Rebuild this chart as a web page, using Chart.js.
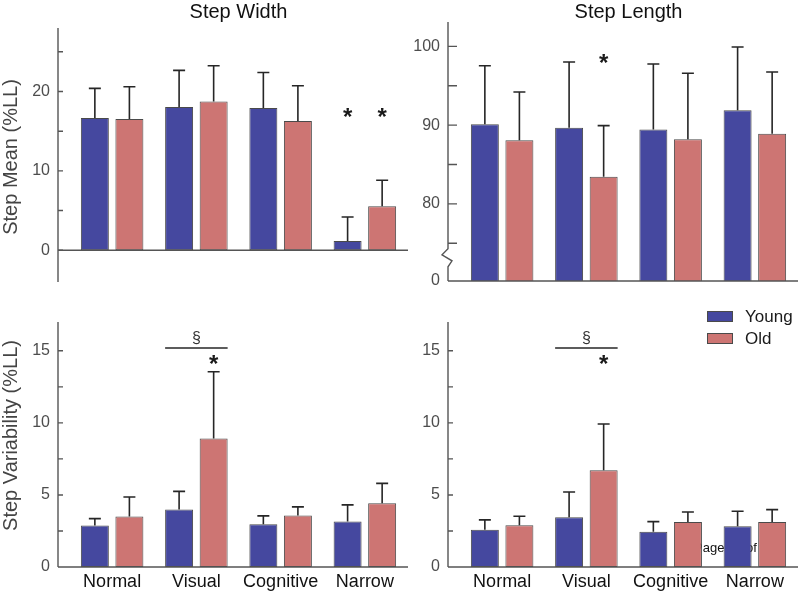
<!DOCTYPE html>
<html>
<head>
<meta charset="utf-8">
<script src="https://cdn.jsdelivr.net/npm/chart.js@4.4.0/dist/chart.umd.min.js"></script>
<style>
html,body{margin:0;padding:0;background:#fff;}
#wrap{position:relative;width:800px;height:592px;overflow:hidden;background:#fff;}
.cell{position:absolute;}
</style>
</head>
<body>
<div id="wrap">
  <div class="cell" style="left:0;top:0;width:410px;height:296px"><canvas id="c1"></canvas></div>
  <div class="cell" style="left:410px;top:0;width:390px;height:296px"><canvas id="c2"></canvas></div>
  <div class="cell" style="left:0;top:296px;width:410px;height:296px"><canvas id="c3"></canvas></div>
  <div class="cell" style="left:410px;top:296px;width:390px;height:296px"><canvas id="c4"></canvas></div>
</div>
<script>
// ---------- data ----------
const categories = ['Normal', 'Visual', 'Cognitive', 'Narrow'];
const seriesNames = ['Young', 'Old'];

// Step Width - mean (%LL)
const widthMeanYoung = [16.67, 18.06, 17.93, 1.18];
const widthMeanOld   = [16.54, 18.73, 16.29, 5.53];
const widthMeanSdYoung = [3.73, 4.60, 4.47, 3.00];
const widthMeanSdOld   = [4.06, 4.52, 4.43, 3.29];

// Step Length - mean (%LL)
const lengthMeanYoung = [90.11, 89.68, 89.43, 91.89];
const lengthMeanOld   = [88.08, 83.43, 88.21, 88.92];
const lengthMeanSdYoung = [7.44, 8.34, 8.34, 8.03];
const lengthMeanSdOld   = [6.13, 6.51, 8.38, 7.83];

// Step Width - variability (%LL)
const widthVarYoung = [2.88, 3.99, 2.97, 3.16];
const widthVarOld   = [3.50, 8.91, 3.57, 4.42];
const widthVarSdYoung = [0.48, 1.26, 0.58, 1.15];
const widthVarSdOld   = [1.36, 4.64, 0.60, 1.38];

// Step Length - variability (%LL)
const lengthVarYoung = [2.58, 3.45, 2.44, 2.83];
const lengthVarOld   = [2.90, 6.72, 3.13, 3.13];
const lengthVarSdYoung = [0.69, 1.75, 0.71, 1.04];
const lengthVarSdOld   = [0.62, 3.20, 0.69, 0.85];

// axis ranges and ticks
const widthMeanRange = [-4, 28];
const widthMeanTicks = [0, 5, 10, 15, 20, 25];
const widthMeanTickLabels = ['0', '', '10', '', '20', ''];

const lengthMeanRange = [70.2, 103.1];
const lengthMeanTicks = [70.2, 75, 80, 85, 90, 95, 100];
const lengthMeanTickLabels = ['0', '', '80', '', '90', '', '100'];
const lengthMeanBreak = [72.0, 74.3];

const varRange = [0, 17];
const varTicks = [0, 2.5, 5, 7.5, 10, 12.5, 15];
const varTickLabels = ['0', '', '5', '', '10', '', '15'];

// significance marks: [category index, series index, value]
const widthMeanStars = [[3, 0, 17.2], [3, 1, 17.2]];
const lengthMeanStars = [[1, 1, 98.3]];
const widthVarStars = [[1, 1, 14.3]];
const lengthVarStars = [[1, 1, 14.3]];
// bracket: [category index, value]
const widthVarBracket = [1, 15.2];
const lengthVarBracket = [1, 15.2];

// ---------- styles ----------
const FONT = "'Liberation Sans', Arial, Helvetica, sans-serif";
const colorYoung = '#45489f';
const colorOld = '#cd7573';
const edgeColor = '#4a4a4a';
const axisColor = '#555555';

const panelPlugin = {
  id: 'panel',
  beforeDatasetsDraw(chart, args, o) {
    if (o.stamp) {
      const ctx = chart.ctx;
      ctx.save();
      ctx.font = '13px ' + FONT;
      ctx.fillStyle = '#111';
      ctx.textAlign = 'left';
      ctx.textBaseline = 'alphabetic';
      ctx.fillText(o.stamp.text, o.stamp.x, o.stamp.y);
      ctx.restore();
    }
  },
  afterDatasetsDraw(chart) {
    const ctx = chart.ctx, ys = chart.scales.y;
    ctx.save();
    ctx.strokeStyle = '#262626';
    ctx.lineWidth = 1.6;
    chart.data.datasets.forEach((ds, di) => {
      const meta = chart.getDatasetMeta(di);
      meta.data.forEach((bar, i) => {
        const top = ys.getPixelForValue(ds.data[i] + ds.sd[i]);
        ctx.beginPath();
        ctx.moveTo(bar.x, bar.y);
        ctx.lineTo(bar.x, top);
        ctx.moveTo(bar.x - 6, top);
        ctx.lineTo(bar.x + 6, top);
        ctx.stroke();
      });
    });
    ctx.restore();
  },
  afterDraw(chart, args, o) {
    const ctx = chart.ctx, ys = chart.scales.y, ca = chart.chartArea;
    const ax = ca.left - 12;
    ctx.save();
    // y axis line
    ctx.strokeStyle = axisColor;
    ctx.lineWidth = 1.4;
    ctx.beginPath();
    if (o.axisBreak) {
      const b1 = ys.getPixelForValue(o.axisBreak[1]);
      const b0 = ys.getPixelForValue(o.axisBreak[0]);
      const h = (b0 - b1) / 3;
      ctx.moveTo(ax, ca.top);
      ctx.lineTo(ax, b1);
      ctx.lineTo(ax - 6, b1 + h);
      ctx.lineTo(ax + 4, b1 + 2 * h);
      ctx.lineTo(ax, b0);
      ctx.lineTo(ax, ca.bottom);
    } else {
      ctx.moveTo(ax, ca.top);
      ctx.lineTo(ax, ca.bottom);
    }
    // tick marks
    ys.ticks.forEach(t => {
      if (t.value === ys.min) return;
      const py = ys.getPixelForValue(t.value);
      ctx.moveTo(ax, py);
      ctx.lineTo(ax + o.tickLen, py);
    });
    ctx.stroke();
    // baseline
    const baseVal = ys.min > 0 ? ys.min : 0;
    const by = ys.getPixelForValue(baseVal);
    ctx.beginPath();
    ctx.moveTo(ax, by);
    ctx.lineTo(ca.right + 1, by);
    ctx.stroke();

    // panel title
    if (o.title) {
      ctx.fillStyle = '#111';
      ctx.font = '20px ' + FONT;
      ctx.textAlign = 'center';
      ctx.textBaseline = 'middle';
      ctx.fillText(o.title, (ca.left + ca.right) / 2, 12);
    }
    // y title
    if (o.yTitle) {
      ctx.save();
      ctx.translate(11, (ca.top + ca.bottom) / 2 + (o.yTitleDy || 0));
      ctx.rotate(-Math.PI / 2);
      ctx.fillStyle = '#444';
      ctx.font = '20px ' + FONT;
      ctx.textAlign = 'center';
      ctx.textBaseline = 'middle';
      ctx.fillText(o.yTitle, 0, 0);
      ctx.restore();
    }
    // bracket with section sign
    if (o.bracket) {
      const m0 = chart.getDatasetMeta(0).data[o.bracket[0]];
      const m1 = chart.getDatasetMeta(1).data[o.bracket[0]];
      const x0 = m0.x - m0.width / 2, x1 = m1.x + m1.width / 2;
      const py = ys.getPixelForValue(o.bracket[1]);
      ctx.strokeStyle = '#262626';
      ctx.lineWidth = 1.4;
      ctx.beginPath();
      ctx.moveTo(x0, py);
      ctx.lineTo(x1, py);
      ctx.stroke();
      ctx.fillStyle = '#333';
      ctx.font = '16px ' + FONT;
      ctx.textAlign = 'center';
      ctx.textBaseline = 'alphabetic';
      ctx.fillText('\u00A7', (x0 + x1) / 2, py - 5);
    }
    // stars
    if (o.stars) {
      ctx.fillStyle = '#1a1a1a';
      ctx.font = 'bold 24px ' + FONT;
      ctx.textAlign = 'center';
      ctx.textBaseline = 'alphabetic';
      o.stars.forEach(s => {
        const bar = chart.getDatasetMeta(s[1]).data[s[0]];
        const py = ys.getPixelForValue(s[2]);
        ctx.fillText('*', bar.x, py + 11);
      });
    }
    // legend
    if (o.legend) {
      const L = o.legend;
      const cols = [colorYoung, colorOld];
      chart.data.datasets.forEach((ds, i) => {
        const y = L.y + i * 22;
        ctx.fillStyle = cols[i];
        ctx.fillRect(L.x, y, 26, 11);
        ctx.strokeStyle = edgeColor;
        ctx.lineWidth = 1;
        ctx.strokeRect(L.x + 0.5, y + 0.5, 25, 10);
        ctx.fillStyle = '#1a1a1a';
        ctx.font = '17px ' + FONT;
        ctx.textAlign = 'left';
        ctx.textBaseline = 'middle';
        ctx.fillText(ds.label, L.x + 38, y + 6);
      });
    }
    ctx.restore();
  }
};

function makePanel(id, cfg) {
  return new Chart(document.getElementById(id), {
    type: 'bar',
    data: {
      labels: categories,
      datasets: [
        { label: seriesNames[0], data: cfg.young, sd: cfg.youngSd, backgroundColor: colorYoung,
          borderColor: edgeColor, borderWidth: 1, borderSkipped: false },
        { label: seriesNames[1], data: cfg.old, sd: cfg.oldSd, backgroundColor: colorOld,
          borderColor: edgeColor, borderWidth: 1, borderSkipped: false }
      ]
    },
    options: {
      responsive: true,
      maintainAspectRatio: false,
      animation: false,
      categoryPercentage: 0.82,
      barPercentage: 0.81,
      layout: { padding: cfg.padding, autoPadding: false },
      plugins: { legend: { display: false }, tooltip: { enabled: false }, panel: cfg.panel },
      scales: {
        x: {
          display: cfg.showX,
          grid: { display: false, drawTicks: false },
          border: { display: false },
          ticks: { font: { family: FONT, size: 18 }, color: '#111', padding: 4, maxRotation: 0, autoSkip: false },
          afterFit: s => {
            if (cfg.showX) s.height = 25;
            s.paddingLeft = 0; s.paddingRight = 0;
          }
        },
        y: {
          min: cfg.range[0],
          max: cfg.range[1],
          grid: { display: false, drawTicks: false },
          border: { display: false },
          afterBuildTicks: s => { s.ticks = cfg.ticks.map(v => ({ value: v })); },
          ticks: {
            font: { family: FONT, size: 16 }, color: '#4d4d4d', padding: 20, autoSkip: false,
            callback: (v, i) => cfg.tickLabels[i]
          },
          afterFit: s => {
            s.width = cfg.yWidth;
            s.paddingTop = 0; s.paddingBottom = 0;
          }
        }
      }
    },
    plugins: [panelPlugin]
  });
}

makePanel('c1', {
  young: widthMeanYoung, old: widthMeanOld, youngSd: widthMeanSdYoung, oldSd: widthMeanSdOld,
  range: widthMeanRange, ticks: widthMeanTicks, tickLabels: widthMeanTickLabels,
  showX: false, yWidth: 70, padding: { top: 28, right: 3, bottom: 14, left: 0 },
  panel: { title: 'Step Width', yTitle: 'Step Mean (%LL)', yTitleDy: 2, tickLen: 5, stars: widthMeanStars }
});
makePanel('c2', {
  young: lengthMeanYoung, old: lengthMeanOld, youngSd: lengthMeanSdYoung, oldSd: lengthMeanSdOld,
  range: lengthMeanRange, ticks: lengthMeanTicks, tickLabels: lengthMeanTickLabels,
  showX: false, yWidth: 50, padding: { top: 22, right: 3, bottom: 15, left: 0 },
  panel: { title: 'Step Length', tickLen: 9, stars: lengthMeanStars, axisBreak: lengthMeanBreak }
});
makePanel('c3', {
  young: widthVarYoung, old: widthVarOld, youngSd: widthVarSdYoung, oldSd: widthVarSdOld,
  range: varRange, ticks: varTicks, tickLabels: varTickLabels,
  showX: true, yWidth: 70, padding: { top: 26, right: 3, bottom: 0, left: 0 },
  panel: { yTitle: 'Step Variability (%LL)', yTitleDy: -9, tickLen: 5, stars: widthVarStars, bracket: widthVarBracket }
});
makePanel('c4', {
  young: lengthVarYoung, old: lengthVarOld, youngSd: lengthVarSdYoung, oldSd: lengthVarSdOld,
  range: varRange, ticks: varTicks, tickLabels: varTickLabels,
  showX: true, yWidth: 50, padding: { top: 26, right: 3, bottom: 0, left: 0 },
  panel: { tickLen: 5, stars: lengthVarStars, bracket: lengthVarBracket,
           legend: { x: 297, y: 15 }, stamp: { text: 'Page 16 of 19', x: 284, y: 256 } }
});
</script>
</body>
</html>
